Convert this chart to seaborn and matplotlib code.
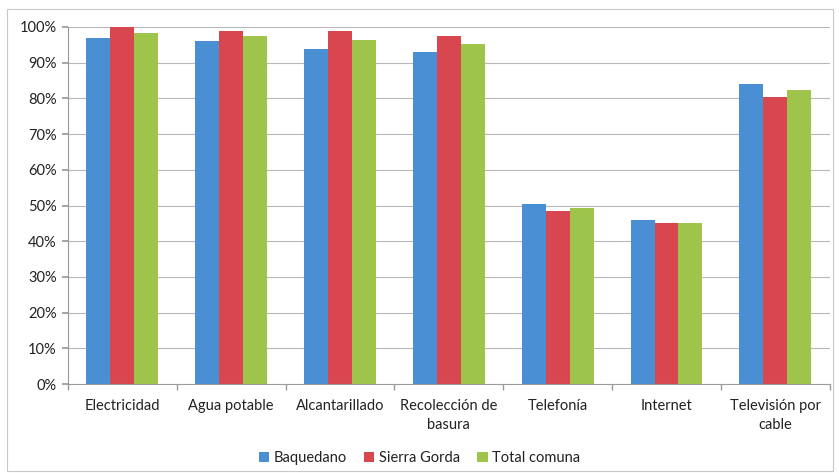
import matplotlib
matplotlib.use("Agg")
import matplotlib.pyplot as plt
import seaborn as sns
import pandas as pd
import numpy as np
from matplotlib.patches import Rectangle

categories = ["Electricidad", "Agua potable", "Alcantarillado", "Recolección de\nbasura",
              "Telefonía", "Internet", "Televisión por\ncable"]
baquedano = [96.9, 96.1, 93.8, 93.1, 50.3, 45.9, 83.9]
sierra_gorda = [99.9, 99.0, 98.9, 97.5, 48.6, 45.2, 80.4]
total_comuna = [98.3, 97.5, 96.4, 95.1, 49.4, 45.2, 82.3]
series = ["Baquedano", "Sierra Gorda", "Total comuna"]
colors = ["#4a8fd3", "#d8464f", "#9fc44c"]
yticks = [0, 10, 20, 30, 40, 50, 60, 70, 80, 90, 100]

df = pd.DataFrame({
    "cat": categories * 3,
    "serie": [series[0]] * 7 + [series[1]] * 7 + [series[2]] * 7,
    "val": baquedano + sierra_gorda + total_comuna,
})

sns.set_theme(style="white")
plt.rcParams["font.family"] = ["Lato", "DejaVu Sans"]

fig = plt.figure(figsize=(8.39, 4.73), dpi=100)
ax = fig.add_axes([0.081, 0.188, 0.908, 0.755])

sns.barplot(data=df, x="cat", y="val", hue="serie", palette=colors,
            width=0.66, gap=0, saturation=1, ax=ax, legend=True,
            edgecolor="none", linewidth=0)

ax.set_ylim(0, 100)
ax.set_xlim(-0.5, 6.5)
ax.set_yticks(yticks)
ax.set_yticklabels([f"{v}%" for v in yticks], fontsize=10.5, color="#222222")
ax.set_xticks(range(7))
ax.set_xticklabels(categories, fontsize=10.5, color="#222222", multialignment="center",
                   linespacing=1.45)
ax.set_xlabel("")
ax.set_ylabel("")
for v in yticks[1:]:
    ax.axhline(v, color="#b8b8b8", lw=0.8, zorder=0)
ax.set_axisbelow(True)
for s in ["top", "right"]:
    ax.spines[s].set_visible(False)
ax.spines["left"].set_color("#9a9a9a")
ax.spines["bottom"].set_color("#9a9a9a")
ax.spines["left"].set_linewidth(0.8)
ax.spines["bottom"].set_linewidth(0.8)
ax.tick_params(axis="y", length=4, color="#9a9a9a", pad=4, left=True)
ax.tick_params(axis="x", length=0, pad=11)
# minor ticks between categories
ax.set_xticks(np.arange(-0.5, 7, 1), minor=True)
ax.tick_params(axis="x", which="minor", length=4, color="#9a9a9a", bottom=True)

leg = ax.legend(loc="center", bbox_to_anchor=(0.5, 0.032), bbox_transform=fig.transFigure,
                ncol=3, frameon=False, fontsize=10.5, handlelength=0.7, handleheight=0.7,
                handletextpad=0.3, columnspacing=1.2)
for t in leg.get_texts():
    t.set_color("#222222")

fig.patches.append(Rectangle((0.008, 0.005), 0.985, 0.975, transform=fig.transFigure,
                             fill=False, edgecolor="#c8c8c8", lw=0.8))

fig.savefig("out.png", dpi=100)
